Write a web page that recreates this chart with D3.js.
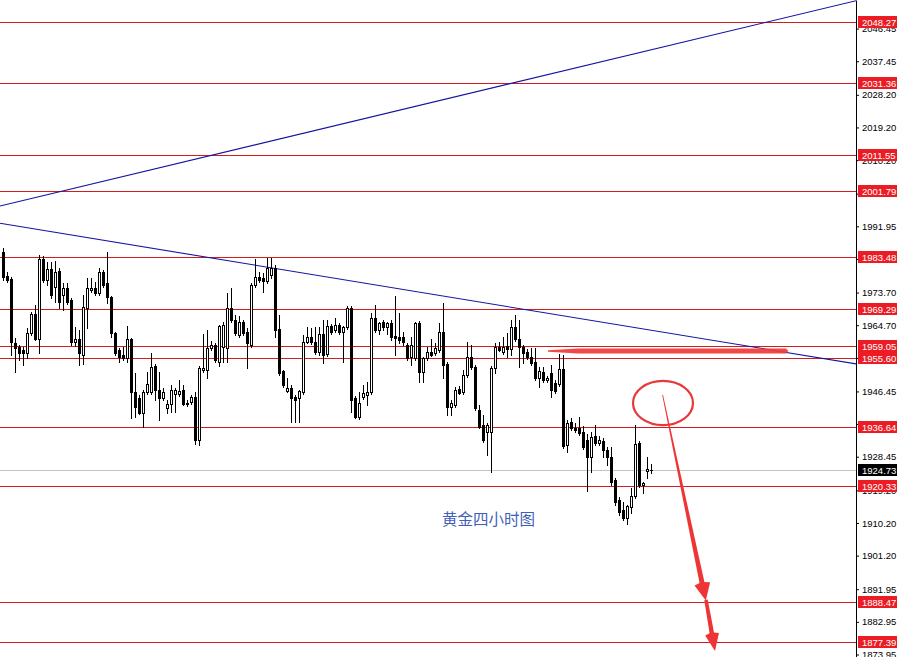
<!DOCTYPE html>
<html><head><meta charset="utf-8">
<script src="https://cdn.jsdelivr.net/npm/d3@7/dist/d3.min.js"></script>
<style>html,body{margin:0;padding:0;background:#fff;overflow:hidden}</style>
</head><body><svg id="c" width="897" height="657"></svg>
<script>
// ---------------- data ----------------
const opens = [1984.9,1978.3,1977.4,1959.8,1958.7,1957.9,1957.0,1962.6,1967.8,1960.9,1983.0,1977.2,1980.2,1975.2,1979.6,1973.0,1975.0,1971.7,1960.1,1960.9,1956.5,1969.5,1974.4,1975.0,1973.6,1979.4,1976.3,1972.5,1962.6,1957.9,1956.5,1955.7,1960.9,1946.3,1944.6,1940.5,1946.3,1946.3,1953.5,1946.9,1944.6,1941.9,1943.0,1945.8,1945.8,1946.9,1943.3,1943.5,1944.9,1933.1,1952.4,1952.4,1958.4,1959.3,1954.6,1958.7,1958.4,1969.5,1966.1,1962.0,1965.6,1962.8,1959.3,1975.8,1978.0,1977.7,1976.9,1978.5,1980.5,1963.7,1952.1,1946.6,1947.4,1944.9,1944.6,1946.3,1960.1,1961.5,1960.1,1957.3,1962.3,1956.8,1964.5,1963.4,1964.8,1962.8,1964.2,1969.5,1944.6,1939.4,1944.9,1945.5,1946.3,1966.7,1963.4,1965.6,1964.2,1965.3,1961.7,1961.5,1961.5,1959.3,1955.9,1955.7,1965.3,1951.8,1955.7,1957.3,1957.0,1957.9,1962.8,1954.0,1942.2,1942.7,1947.1,1946.3,1951.0,1955.9,1953.2,1941.3,1937.2,1935.3,1935.3,1952.9,1958.7,1957.3,1959.0,1958.1,1964.2,1960.9,1958.7,1957.3,1955.9,1954.6,1950.2,1951.8,1949.6,1951.5,1948.8,1948.5,1952.6,1931.7,1938.0,1936.4,1936.4,1935.3,1933.1,1928.4,1934.2,1932.2,1932.8,1930.3,1928.4,1922.0,1916.5,1913.8,1911.6,1914.6,1917.6,1932.2,1920.7,1924.5,1924.8];
const highs = [1986.0,1979.4,1978.0,1961.2,1959.3,1958.7,1963.9,1968.3,1970.3,1984.1,1983.8,1982.1,1982.1,1982.4,1980.5,1976.3,1976.3,1972.2,1964.2,1963.4,1973.0,1977.7,1977.7,1976.6,1980.5,1979.9,1984.9,1972.8,1962.8,1958.4,1958.7,1964.5,1961.2,1951.5,1945.5,1946.9,1951.8,1957.0,1954.0,1951.8,1947.4,1944.1,1948.2,1947.4,1949.6,1948.2,1944.1,1945.5,1946.3,1953.5,1962.3,1963.4,1960.4,1959.8,1964.8,1965.6,1973.6,1975.0,1967.5,1967.2,1966.1,1963.9,1976.3,1983.0,1979.4,1979.1,1983.2,1983.2,1981.3,1967.5,1952.4,1950.2,1948.2,1945.5,1946.9,1962.0,1964.2,1963.9,1964.2,1964.2,1966.1,1966.1,1965.0,1966.7,1965.3,1964.5,1970.0,1970.0,1945.2,1946.3,1948.2,1949.0,1968.1,1970.3,1965.6,1966.1,1965.6,1966.1,1972.8,1968.1,1962.8,1959.8,1961.5,1965.6,1965.9,1955.9,1958.7,1960.9,1959.8,1965.3,1970.8,1954.6,1944.1,1947.7,1947.9,1952.4,1960.1,1959.3,1953.7,1942.7,1939.9,1937.8,1953.5,1959.8,1960.1,1961.5,1962.6,1966.1,1967.5,1966.1,1959.3,1958.1,1958.4,1958.4,1953.2,1953.2,1950.7,1953.7,1949.6,1956.8,1956.5,1938.6,1939.1,1937.8,1939.4,1936.9,1934.7,1935.3,1937.2,1934.2,1933.6,1931.1,1931.1,1922.6,1917.4,1916.0,1915.2,1919.8,1937.2,1932.8,1921.5,1928.4,1926.4];
const lows = [1977.2,1976.6,1956.5,1951.8,1955.1,1953.7,1955.7,1962.0,1960.6,1957.0,1976.6,1975.8,1972.2,1971.1,1969.5,1968.9,1970.6,1959.3,1959.0,1953.7,1954.0,1963.9,1973.9,1973.0,1973.0,1975.2,1970.8,1961.5,1956.5,1954.6,1955.1,1954.6,1939.1,1939.4,1940.2,1936.7,1945.8,1945.8,1944.1,1938.6,1944.1,1940.5,1940.8,1940.8,1945.2,1942.7,1942.4,1943.0,1932.0,1931.7,1951.8,1950.2,1957.9,1954.6,1953.5,1954.6,1954.6,1965.6,1962.0,1961.5,1962.0,1952.9,1958.7,1975.2,1976.6,1973.9,1976.3,1977.7,1961.5,1951.0,1947.7,1946.3,1938.0,1938.0,1938.0,1945.8,1959.8,1959.5,1956.8,1956.5,1954.3,1956.2,1962.3,1962.8,1962.3,1954.6,1963.7,1940.8,1939.1,1938.8,1944.4,1942.7,1945.8,1962.8,1962.3,1963.4,1962.3,1960.6,1956.5,1959.8,1959.3,1955.1,1953.7,1955.1,1949.0,1949.0,1955.1,1956.2,1956.5,1957.3,1950.2,1939.9,1939.9,1942.2,1945.8,1945.8,1950.4,1952.6,1941.3,1936.4,1932.5,1928.9,1924.2,1951.5,1957.6,1956.8,1955.9,1956.5,1960.4,1953.2,1954.3,1955.4,1953.7,1949.6,1947.7,1949.0,1949.0,1944.9,1946.0,1947.9,1930.9,1929.8,1935.8,1935.3,1934.4,1930.6,1919.0,1924.2,1931.7,1931.7,1928.4,1926.2,1920.7,1915.2,1912.4,1911.0,1909.9,1913.0,1917.1,1920.1,1918.5,1922.6,1924.0];
const closes = [1978.0,1977.2,1960.1,1958.4,1957.0,1957.0,1962.6,1967.8,1960.9,1983.0,1977.2,1980.2,1973.0,1979.4,1971.1,1975.0,1971.1,1960.1,1960.9,1957.0,1969.7,1975.0,1975.0,1973.6,1979.4,1975.8,1972.5,1962.6,1957.0,1955.9,1955.7,1960.9,1946.3,1942.2,1940.5,1946.3,1948.5,1953.2,1946.9,1944.6,1946.3,1943.0,1946.9,1946.9,1946.6,1943.0,1943.0,1944.9,1933.1,1952.9,1952.9,1958.4,1959.3,1955.1,1964.5,1964.8,1969.5,1966.1,1962.6,1965.6,1962.6,1959.8,1975.8,1978.0,1977.2,1976.9,1980.5,1980.5,1963.4,1951.5,1948.2,1947.4,1944.6,1944.1,1946.6,1960.1,1961.5,1960.1,1957.3,1962.3,1956.5,1964.5,1962.8,1964.8,1962.8,1964.2,1969.5,1944.1,1939.4,1943.3,1946.0,1946.3,1966.7,1963.4,1965.3,1964.2,1965.3,1961.5,1961.2,1960.6,1960.1,1955.7,1959.3,1965.3,1951.8,1955.7,1957.3,1956.5,1958.4,1962.8,1953.7,1942.2,1943.3,1946.9,1946.0,1951.0,1955.9,1953.2,1941.9,1936.7,1933.1,1937.2,1952.9,1958.7,1957.9,1958.7,1958.1,1964.2,1960.9,1958.7,1957.0,1955.9,1954.3,1950.2,1952.1,1949.6,1950.2,1946.9,1946.6,1952.6,1931.4,1937.8,1936.4,1935.8,1935.0,1931.1,1928.4,1933.9,1932.2,1933.1,1930.3,1928.4,1921.5,1916.0,1913.2,1911.6,1914.9,1917.6,1932.0,1920.7,1921.2,1925.1,1924.73];

const levels = [2048.27, 2031.36, 2011.55, 2001.79, 1983.48, 1969.29, 1959.05, 1955.60, 1936.64, 1920.33, 1888.47, 1877.39];
const lastPrice = 1924.73;
const tickValues = [2046.45, 2037.45, 2028.20, 2019.20, 2010.20, 2000.95, 1991.95, 1982.95, 1973.70, 1964.70, 1955.70, 1946.45, 1937.45, 1928.45, 1919.20, 1910.20, 1901.20, 1891.95, 1882.95, 1873.95];
// trendlines: [barIndex, price] endpoints
const trendUp = [[-0.75, 1997.56], [213.5, 2054.2]];
const trendDown = [[-0.75, 1992.8], [213.5, 1954.0]];
// annotations in data space
const resistanceBar = [[136.25, 1957.6], [195.75, 1957.6]];
const circleCenter = [165, 1943.26], circleRx = 7.5, circleRy = 6.1;
const arrow1 = [[164.9, 1945.5], [175.7, 1888.8]];
const arrow2 = [[175.75, 1889.0], [178.0, 1874.9]];
const title = "黄金四小时图";

// ---------------- drawing ----------------
const W = 897, H = 657, plotR = 856;
const svg = d3.select("#c");
const x = d3.scaleLinear().domain([0, 162]).range([3, 651]);
const y = d3.scaleLinear().domain([1873.26, 2054.33]).range([657, 0]);

svg.append("defs").append("clipPath").attr("id", "clip")
  .append("rect").attr("x", 0).attr("y", 0).attr("width", plotR).attr("height", H);
const plot = svg.append("g").attr("clip-path", "url(#clip)");

const lineRed = "#d41c1c", boxRed = "#ec1c24";
const axisFont = "'Liberation Sans', Arial, sans-serif";

// gray current-price line
plot.append("rect").attr("x", 0).attr("width", plotR).attr("height", 1)
  .attr("y", Math.round(y(lastPrice))).attr("fill", "#c4c4c4");

// horizontal levels
plot.selectAll("rect.lvl").data(levels).join("rect").attr("class", "lvl")
  .attr("x", 0).attr("width", plotR).attr("height", 1)
  .attr("y", d => Math.round(y(d))).attr("fill", lineRed);

// trendlines
const lineGen = d3.line().x(d => x(d[0])).y(d => y(d[1]));
[trendUp, trendDown].forEach(t => {
  plot.append("path").attr("d", lineGen(t)).attr("stroke", "#1414a0")
    .attr("stroke-width", 1.1).attr("fill", "none");
});

// candles
const candles = opens.map((o, i) => ({i, o, h: highs[i], l: lows[i], c: closes[i]}));
const cg = plot.append("g");
candles.forEach(d => {
  const px = Math.round(x(d.i));
  const yh = Math.round(y(d.h)), yl = Math.round(y(d.l));
  cg.append("rect").attr("x", px).attr("width", 1).attr("y", yh).attr("height", yl - yh + 1).attr("fill", "#000");
  const top = Math.round(y(Math.max(d.o, d.c))), bot = Math.round(y(Math.min(d.o, d.c)));
  if (bot - top < 1) {
    cg.append("rect").attr("x", px - 1).attr("width", 3).attr("y", top).attr("height", 1).attr("fill", "#000");
  } else if (d.c < d.o) {
    cg.append("rect").attr("x", px - 1).attr("width", 3).attr("y", top).attr("height", bot - top + 1).attr("fill", "#000");
  } else {
    cg.append("rect").attr("x", px - 0.5).attr("width", 2).attr("y", top + 0.5).attr("height", bot - top)
      .attr("fill", "#fff").attr("stroke", "#000").attr("stroke-width", 1);
  }
});

// resistance highlight bar (tapered left end)
{
  const x0 = x(resistanceBar[0][0]), x1 = x(resistanceBar[1][0]), yy = y(resistanceBar[0][1]);
  const pts = [[x0, yy - 0.8], [x0 + 30, yy - 2.4], [x1, yy - 2.4], [x1 + 2.4, yy], [x1, yy + 2.4], [x0 + 30, yy + 2.4], [x0, yy + 0.8]];
  plot.append("path").attr("d", "M" + pts.map(p => p.join(",")).join("L") + "Z")
    .attr("fill", "#f03a3a").attr("opacity", 0.92);
}

// circle
plot.append("ellipse").attr("cx", x(circleCenter[0])).attr("cy", y(circleCenter[1]))
  .attr("rx", x(circleCenter[0] + circleRx) - x(circleCenter[0]))
  .attr("ry", y(circleCenter[1] - circleRy) - y(circleCenter[1]))
  .attr("fill", "none").attr("stroke", "#e8383a").attr("stroke-width", 2.2);

// tapered arrows
function arrow(a, w0, w1, headLen, headW) {
  const x0 = x(a[0][0]), y0 = y(a[0][1]), x1 = x(a[1][0]), y1 = y(a[1][1]);
  const dx = x1 - x0, dy = y1 - y0, len = Math.hypot(dx, dy);
  const ux = dx / len, uy = dy / len, nx = -uy, ny = ux;
  const bx = x1 - ux * headLen, by = y1 - uy * headLen;
  const shaft = [[x0 + nx * w0 / 2, y0 + ny * w0 / 2], [bx + nx * w1 / 2, by + ny * w1 / 2],
                 [bx - nx * w1 / 2, by - ny * w1 / 2], [x0 - nx * w0 / 2, y0 - ny * w0 / 2]];
  plot.append("path").attr("d", "M" + shaft.map(p => p.join(",")).join("L") + "Z").attr("fill", "#ee3434");
  const head = [[bx + nx * headW / 2, by + ny * headW / 2], [x1, y1], [bx - nx * headW / 2, by - ny * headW / 2], [bx - ux * 2, by - uy * 2]];
  plot.append("path").attr("d", "M" + head.map(p => p.join(",")).join("L") + "Z").attr("fill", "#ee3434");
}
arrow(arrow1, 0.8, 5, 17, 16);
arrow(arrow2, 3.5, 4.5, 17, 14);

// title text
plot.append("text").attr("x", 442).attr("y", 525).text(title)
  .attr("font-family", "'Noto Sans CJK SC', sans-serif").attr("font-size", 15.5)
  .attr("fill", "#3f5fb8");

// right axis
const axis = d3.axisRight(y).tickValues(tickValues).tickSize(3).tickSizeOuter(0)
  .tickFormat(d => d.toFixed(2));
const ag = svg.append("g").attr("transform", `translate(${plotR},0)`).call(axis);
ag.select(".domain").attr("stroke", "#000");
ag.selectAll(".tick line").attr("stroke", "#000");
ag.selectAll(".tick text").attr("font-family", axisFont)
  .attr("font-size", 9.5).attr("fill", "#000").attr("x", 6);

// level labels
const lab = svg.append("g");
function label(v, bg) {
  const yy = Math.round(y(v));
  lab.append("rect").attr("x", plotR + 2).attr("y", yy - 6).attr("width", W - plotR - 2).attr("height", 12).attr("fill", bg);
  lab.append("text").attr("x", 862).attr("y", yy + 3.5).text(v.toFixed(2))
    .attr("font-family", axisFont).attr("font-size", 9.5).attr("fill", "#fff");
}
levels.forEach(v => label(v, boxRed));
label(lastPrice, "#000");
</script></body></html>
